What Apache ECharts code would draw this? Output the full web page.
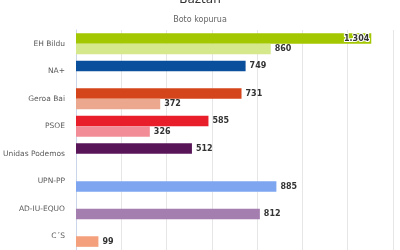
<!DOCTYPE html>
<html><head><meta charset="utf-8">
<script src="https://cdn.jsdelivr.net/npm/echarts@6/dist/echarts.min.js"></script>
<style>html,body{margin:0;padding:0;background:#fff}#c{width:400px;height:250px}</style>
</head><body><div id="c"></div>
<script>
const categories = ['EH Bildu','NA+','Geroa Bai','PSOE','Unidas Podemos','UPN-PP','AD-IU-EQUO','C´S'];
const votesA = [1304, 749, 731, 585, 512, null, null, null];
const votesB = [860, null, 372, 326, null, 885, 812, 99];
const colorsA = ['#a3c700','#0a4f9b','#d5451b','#e81f2b','#581659','#7ea6f0','#a47eaf','#f4a07c'];
const colorsB = ['#d5e88c','#7d9fcc','#eca88f','#f28d97','#a888aa','#7ea6f0','#a47eaf','#f4a07c'];
const fmt = v => v >= 1000 ? String(v).replace(/\B(?=(\d{3})+(?!\d))/g, '.') : String(v);

function mk(vals, cols) {
  return vals.map((v, i) => {
    const o = { value: v, itemStyle: { color: cols[i] } };
    if (v !== null && v > 1200) {
      o.label = { position: 'insideRight', offset: [2, 0], color: '#333', textBorderColor: '#fff', textBorderWidth: 2 };
    }
    return o;
  });
}
const lbl = { show: true, position: 'right', distance: 4, fontFamily: 'DejaVu Sans', fontSize: 8, fontWeight: 'bold', color: '#333', formatter: p => fmt(p.value) };

const chart = echarts.init(document.getElementById('c'));
chart.setOption({
  animation: false,
  title: {
    text: 'Baztan', subtext: 'Boto kopurua', left: 'center', top: -11, itemGap: 10,
    textStyle: { fontFamily: 'DejaVu Sans', fontSize: 12, fontWeight: 'normal', color: '#333' },
    subtextStyle: { fontFamily: 'DejaVu Sans', fontSize: 8, color: '#666' }
  },
  grid: { left: 76, right: 7, top: 30, bottom: 0, containLabel: false },
  xAxis: { type: 'value', min: 0, max: 1400, interval: 200,
    axisLabel: { show: false }, axisLine: { show: false }, axisTick: { show: false },
    splitLine: { lineStyle: { color: '#e6e6e6', width: 1 } } },
  yAxis: { type: 'category', data: categories, inverse: true,
    axisLine: { show: true, lineStyle: { color: '#ccd6eb' } }, axisTick: { show: false },
    axisLabel: { fontFamily: 'DejaVu Sans', fontSize: 7.5, color: '#5a5a5a', margin: 11 } },
  series: [
    { type: 'bar', data: mk(votesA, colorsA), barGap: 0, barCategoryGap: '23%', label: lbl },
    { type: 'bar', data: mk(votesB, colorsB), barGap: 0, barCategoryGap: '23%', label: lbl }
  ]
});
</script></body></html>
